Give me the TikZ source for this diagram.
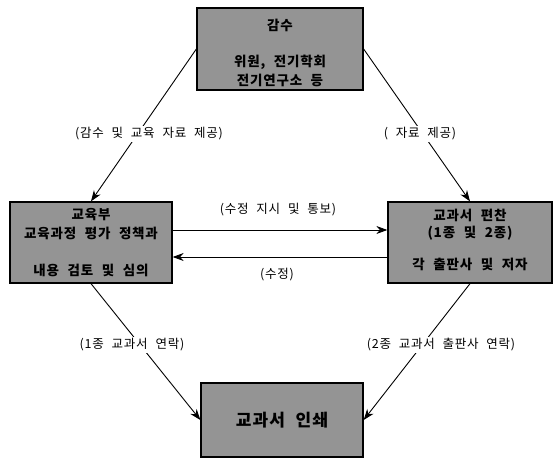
\documentclass[tikz,border=0pt]{standalone}
\usepackage{fontspec}
\setmainfont{Noto Sans CJK KR}
\newfontfamily\krwide[WordSpace=2.2,LetterSpace=6]{Noto Sans CJK KR}
\usetikzlibrary{arrows.meta}
\begin{document}
\begin{tikzpicture}[x=1pt,y=-1pt,
  box/.style={draw=black,line width=1.3pt,fill=black!42,inner sep=0pt},
  boxtext/.style={font=\krwide\bfseries\fontsize{13.5}{15}\selectfont,text=black,inner sep=0pt},
  lbl/.style={font=\krwide\fontsize{12.5}{14}\selectfont,fill=white,inner sep=2pt},
  conn/.style={line width=0.9pt,-{Stealth[length=11pt,width=8pt]}}]
\useasboundingbox (0,0) rectangle (555,468);
% boxes
\node[box,minimum width=166pt,minimum height=82pt] (top) at (280,49) {};
\node[box,minimum width=162pt,minimum height=81pt] (left) at (91,242.5) {};
\node[box,minimum width=164pt,minimum height=81pt] (right) at (470,242.5) {};
\node[box,minimum width=162pt,minimum height=74pt] (bot) at (282,420) {};
% box texts
\node[boxtext] (t1) at (280,25) {감수};
\node[boxtext] (t2) at (280,62) {위원, 전기학회};
\node[boxtext] (t3) at (280,80) {전기연구소 등};
\node[boxtext] (l1) at (91,215) {교육부};
\node[boxtext] (l2) at (91,233) {교육과정 평가 정책과};
\node[boxtext] (l3) at (91,270) {내용 검토 및 심의};
\node[boxtext] (r1) at (470,215) {교과서 편찬};
\node[boxtext] (r2) at (470,233) {(1종 및 2종)};
\node[boxtext] (r3) at (470,264) {각 출판사 및 저자};
\node[boxtext,font=\krwide\bfseries\fontsize{17}{19}\selectfont] (b1) at (282,420) {교과서 인쇄};
% connectors
\draw[conn] (top.west) -- (left.north);
\draw[conn] (top.east) -- (right.north);
\draw[conn] (left.south) -- (bot.west);
\draw[conn] (right.south) -- (bot.east);
\draw[conn] ([yshift=12.5pt]left.east) -- ([yshift=12.5pt]right.west);
\draw[conn] ([yshift=-14.5pt]right.west) -- ([yshift=-14.5pt]left.east);
% labels
\node[lbl] (a1) at (149,134) {(감수 및 교육 자료 제공)};
\node[lbl] (a2) at (420,134) {( 자료 제공)};
\node[lbl] (a3) at (132,345) {(1종 교과서 연락)};
\node[lbl] (a4) at (441,345) {(2종 교과서 출판사 연락)};
\node[lbl] (a5) at (278,210) {(수정 지시 및 통보)};
\node[lbl] (a6) at (277,275) {(수정)};
\end{tikzpicture}
\end{document}
